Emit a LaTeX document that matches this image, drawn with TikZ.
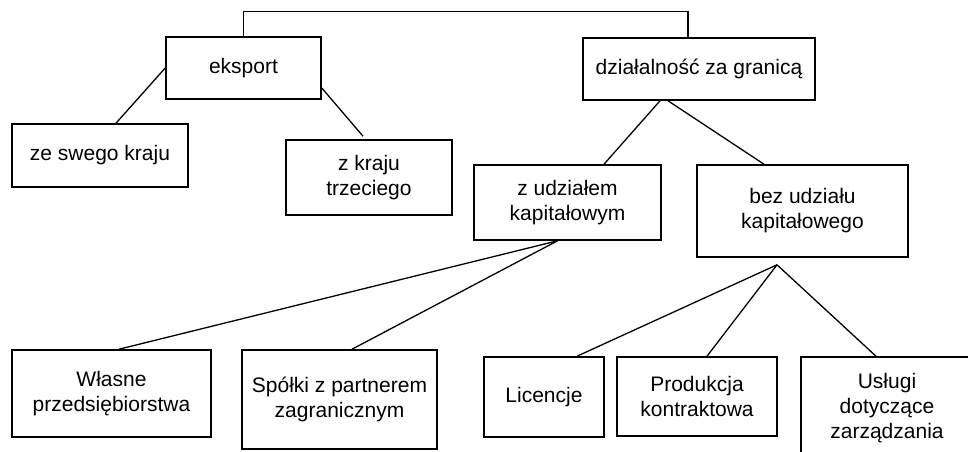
\documentclass[tikz,border=0pt]{standalone}
\usepackage{fontspec}
\setmainfont{Liberation Sans}
\usetikzlibrary{positioning}
\tikzset{
		>=stealth,
		box/.style={draw, line width=1.6pt, align=center, inner sep=0pt,
			font=\fontsize{21}{25}\selectfont},
		link/.style={line width=1.3pt}
	}

\begin{document}
\begin{tikzpicture}[x=1pt, y=-1pt] % one unit = one pixel of the scan, y runs down
		\useasboundingbox (0,0) rectangle (968,451);
		\clip (0,0) rectangle (968,451);
		% first level
		\node[box, minimum width=155, minimum height=62] (eksport) at (243.5,68) {eksport};
		\node[box, minimum width=232, minimum height=62] (dzial) at (699,69) {działalność za granicą};
		% second level
		\node[box, minimum width=176, minimum height=63] (swego) at (100,155.5) {ze swego kraju};
		\node[box, minimum width=166, minimum height=75] (trzeci) at (369,177.5) {z kraju\\trzeciego};
		\node[box, minimum width=187, minimum height=75] (zudz) at (567.5,202.5) {z udziałem\\kapitałowym};
		\node[box, minimum width=211, minimum height=92] (bezudz) at (802.5,211) {bez udziału\\kapitałowego};
		% third level
		\node[box, minimum width=199, minimum height=87] (wlasne) at (111.5,393.5) {Własne\\przedsiębiorstwa};
		\node[box, minimum width=195, minimum height=99] (spolki) at (339.5,399.5) {Spółki z partnerem\\zagranicznym};
		\node[box, minimum width=120, minimum height=80] (licencje) at (544,397) {Licencje};
		\node[box, minimum width=160, minimum height=79] (produkcja) at (697,396.5) {Produkcja\\kontraktowa};
		\node[box, minimum width=172, minimum height=102] (uslugi) at (887,408) {Usługi\\dotyczące\\zarządzania};
		% connectors
		\draw[link] (eksport.north) -- ++(0,-25) -| ([xshift=-11pt]dzial.north);
		\draw[link] (eksport.west) -- ([xshift=16pt]swego.north);
		\draw[link] ([yshift=-20pt]eksport.east) -- ([xshift=-6pt,yshift=3pt]trzeci.north);
		\draw[link] ([xshift=-39pt]dzial.south) -- ([xshift=36.5pt]zudz.north);
		\draw[link] ([xshift=-31pt]dzial.south) -- ([xshift=-38.5pt]bezudz.north);
		\draw[link] ([xshift=-10pt]zudz.south)
		  edge ([xshift=7.5pt]wlasne.north)
		  edge ([xshift=12.5pt]spolki.north);
		\coordinate (bezroot) at ([xshift=-25.5pt,yshift=-7pt]bezudz.south);
		\draw[link] (bezroot)
		  edge ([xshift=33pt]licencje.north)
		  edge ([xshift=10pt]produkcja.north)
		  edge ([xshift=-11pt]uslugi.north);
	\end{tikzpicture}
\end{document}
